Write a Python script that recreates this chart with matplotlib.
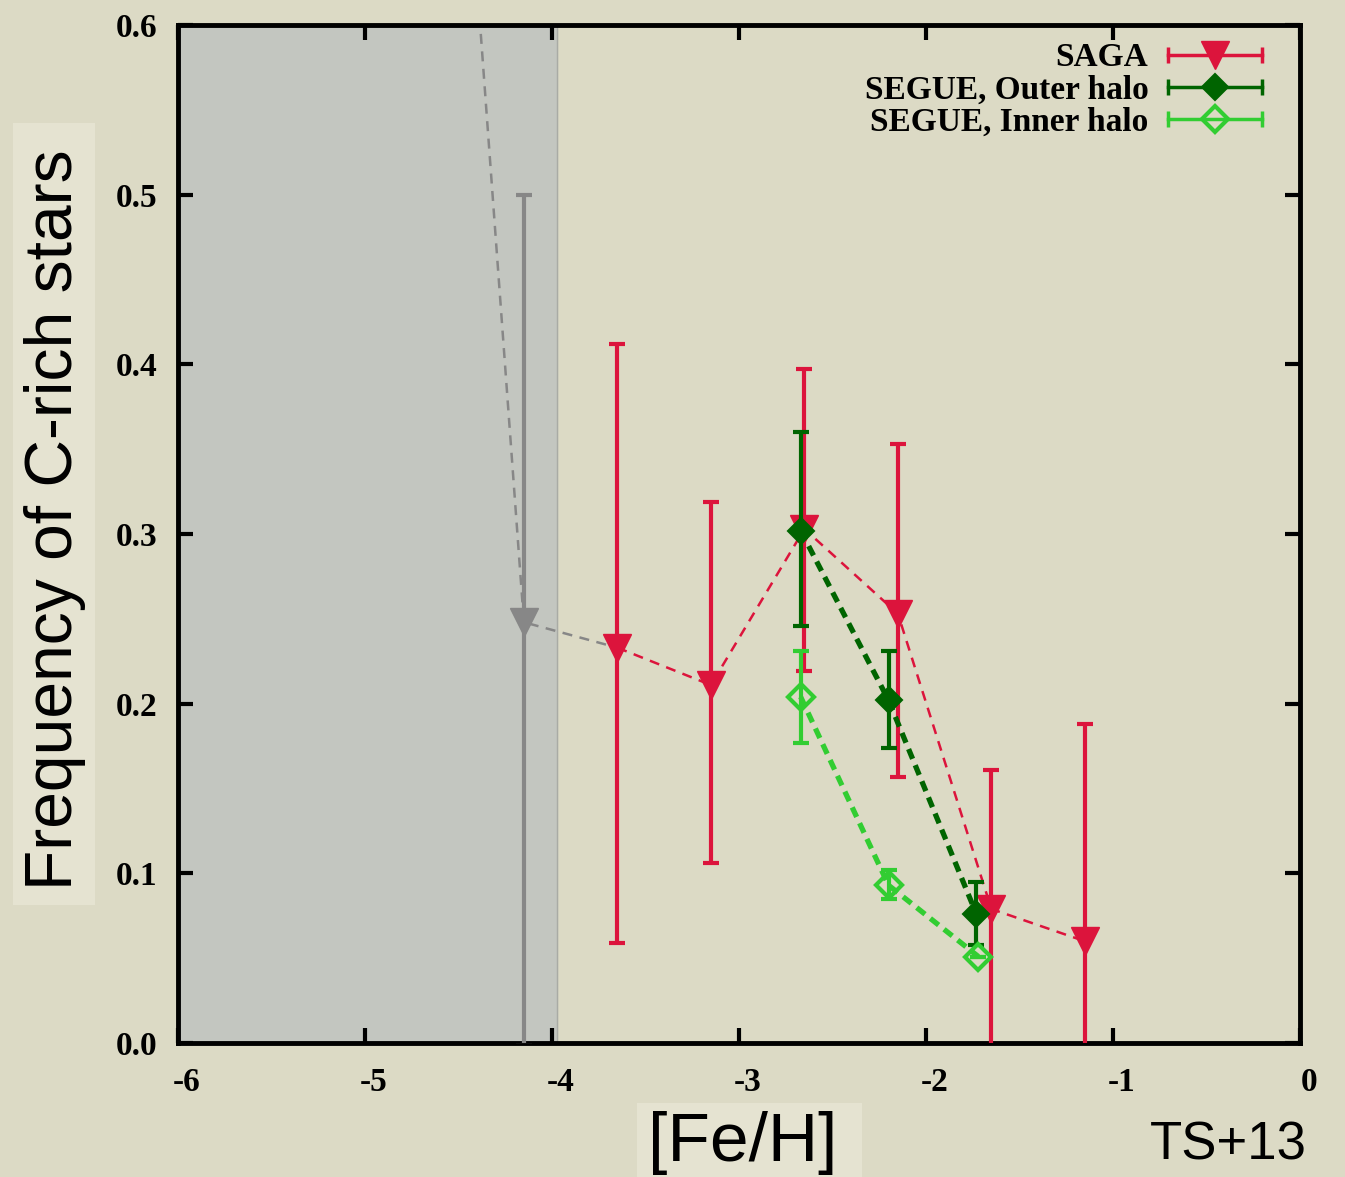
import numpy as np
import matplotlib
matplotlib.use("Agg")
import matplotlib.pyplot as plt
import matplotlib.transforms as mtransforms
from matplotlib.lines import Line2D
from matplotlib.patches import Rectangle
from matplotlib.legend_handler import HandlerBase

# SAGA, [Fe/H] bins
saga_feh = [-3.65, -3.15, -2.65, -2.15, -1.65, -1.15]
saga_frac = [0.233, 0.211, 0.303, 0.253, 0.079, 0.060]
saga_lo = [0.059, 0.106, 0.219, 0.157, -0.003, -0.068]
saga_hi = [0.412, 0.319, 0.397, 0.353, 0.161, 0.188]

# SAGA points inside the shaded region (first one is off the top)
gray_feh = [-4.65, -4.15]
gray_frac = [1.0, 0.248]
gray_lo = [1.0, -0.002]
gray_hi = [1.0, 0.5]

# SEGUE outer halo
outer_feh = [-2.67, -2.20, -1.73]
outer_frac = [0.302, 0.202, 0.076]
outer_lo = [0.246, 0.174, 0.058]
outer_hi = [0.360, 0.231, 0.095]

# SEGUE inner halo
inner_feh = [-2.67, -2.20, -1.72]
inner_frac = [0.204, 0.093, 0.051]
inner_lo = [0.177, 0.085, 0.051]
inner_hi = [0.231, 0.102, 0.051]

BG = '#dcdac5'
RED = '#dc143c'
DGREEN = '#006400'
LGREEN = '#32cd32'
GRAY = '#878787'


class CapHandler(HandlerBase):
    # legend entry: horizontal bar with caps and the marker in the middle
    def create_artists(self, legend, orig_handle, xdescent, ydescent,
                       width, height, fontsize, trans):
        y = (height - ydescent) / 2
        x0, x1 = -xdescent, width - xdescent
        c = orig_handle.get_markeredgecolor()
        bar = Line2D([x0, x1], [y, y], color=c, lw=2.5, marker='|',
                     markersize=11, markeredgewidth=2.5)
        mk = Line2D([(x0 + x1) / 2], [y], linestyle='none',
                    marker=orig_handle.get_marker(),
                    markersize=orig_handle.get_markersize(),
                    markerfacecolor=orig_handle.get_markerfacecolor(),
                    markeredgecolor=c,
                    markeredgewidth=orig_handle.get_markeredgewidth())
        bar.set_transform(trans)
        mk.set_transform(trans)
        return [bar, mk]


def errs(y, lo, hi):
    y = np.array(y)
    return [y - np.array(lo), np.array(hi) - y]


fig = plt.figure(figsize=(13.45, 11.77), dpi=100, facecolor=BG)
ax = fig.add_axes([0.1323, 0.1138, 0.8342, 0.865])
ax.set_facecolor(BG)

ax.axvspan(-6, -3.975, color='#c3c6c0', zorder=0)
ax.axvline(-3.975, color='#a9aba5', lw=1, zorder=0)

# gray part of the sequence
ax.plot(gray_feh + [saga_feh[0]], gray_frac + [saga_frac[0]], ls=(0, (4, 3)),
        color=GRAY, lw=1.8, zorder=2)
ax.errorbar(gray_feh[1:], gray_frac[1:],
            yerr=errs(gray_frac[1:], gray_lo[1:], gray_hi[1:]),
            fmt='v', color=GRAY, ms=20, elinewidth=3, capsize=6, capthick=3,
            zorder=3)

saga_line, = ax.plot(saga_feh, saga_frac, ls=(0, (4, 3)), color=RED, lw=1.8,
                     marker='v', ms=20, mfc=RED, mec=RED, zorder=4)
ax.errorbar(saga_feh, saga_frac, yerr=errs(saga_frac, saga_lo, saga_hi),
            fmt='none', ecolor=RED, elinewidth=3, capsize=6, capthick=3,
            zorder=4)

outer_line, = ax.plot(outer_feh, outer_frac, ls=(0, (2, 1.3)), color=DGREEN,
                      lw=3.8, marker='D', ms=13, mfc=DGREEN, mec=DGREEN,
                      mew=1.5, zorder=6)
ax.errorbar(outer_feh, outer_frac, yerr=errs(outer_frac, outer_lo, outer_hi),
            fmt='none', ecolor=DGREEN, elinewidth=3, capsize=6, capthick=3,
            zorder=5)

inner_line, = ax.plot(inner_feh, inner_frac, ls=(0, (2, 1.3)), color=LGREEN,
                      lw=3.8, marker='D', ms=13, mfc='none', mec=LGREEN,
                      mew=3, zorder=6)
ax.errorbar(inner_feh, inner_frac, yerr=errs(inner_frac, inner_lo, inner_hi),
            fmt='none', ecolor=LGREEN, elinewidth=3, capsize=6, capthick=3,
            zorder=6)

ax.set_xlim(-6, 0)
ax.set_ylim(0, 0.6)
ax.set_xticks(np.arange(-6, 1, 1))
ax.set_yticks(np.arange(0, 0.61, 0.1))
ax.set_xticklabels(['-6', '-5', '-4', '-3', '-2', '-1', '0'])
ax.set_yticklabels(['0.0', '0.1', '0.2', '0.3', '0.4', '0.5', '0.6'])
ax.tick_params(direction='in', length=11, width=3, top=True, right=True,
               labelsize=24)
ax.tick_params(axis='x', pad=17)
ax.tick_params(axis='y', pad=15)
shift = mtransforms.ScaledTranslation(9 / 100, 0, fig.dpi_scale_trans)
for lab in ax.get_xticklabels():
    lab.set_transform(lab.get_transform() + shift)
for lab in ax.get_xticklabels() + ax.get_yticklabels():
    lab.set_fontfamily('Liberation Serif')
    lab.set_fontweight('bold')
for s in ax.spines.values():
    s.set_linewidth(3.5)

leg = ax.legend([saga_line, outer_line, inner_line],
                ['SAGA', 'SEGUE, Outer halo', 'SEGUE, Inner halo'],
                handler_map={Line2D: CapHandler()},
                loc='upper right', bbox_to_anchor=(0.966, 0.983),
                frameon=False, markerfirst=False, handlelength=2.8,
                handletextpad=0.6, labelspacing=0.04, borderpad=0,
                borderaxespad=0,
                prop={'family': 'Liberation Serif', 'weight': 'bold',
                      'size': 24})

# label boxes
fig.patches.append(Rectangle((13 / 1345, 1 - 905 / 1177), 82 / 1345,
                             782 / 1177, transform=fig.transFigure,
                             facecolor='#e5e3d1', edgecolor='none', zorder=0))
fig.patches.append(Rectangle((637 / 1345, 0), 225 / 1345, 74 / 1177,
                             transform=fig.transFigure,
                             facecolor='#e5e3d1', edgecolor='none', zorder=0))

fig.text(55 / 1345, 1 - 520 / 1177, 'Frequency of C-rich stars',
         rotation=90, ha='center', va='center', fontsize=47.5,
         family='Liberation Sans')
fig.text(743 / 1345, 1 - 1143 / 1177, '[Fe/H]', ha='center', va='center',
         fontsize=50, family='Liberation Sans')
fig.text(1228 / 1345, 1 - 1145 / 1177, 'TS+13', ha='center', va='center',
         fontsize=38, family='Liberation Sans')

fig.savefig('out.png', dpi=100, facecolor=BG)
